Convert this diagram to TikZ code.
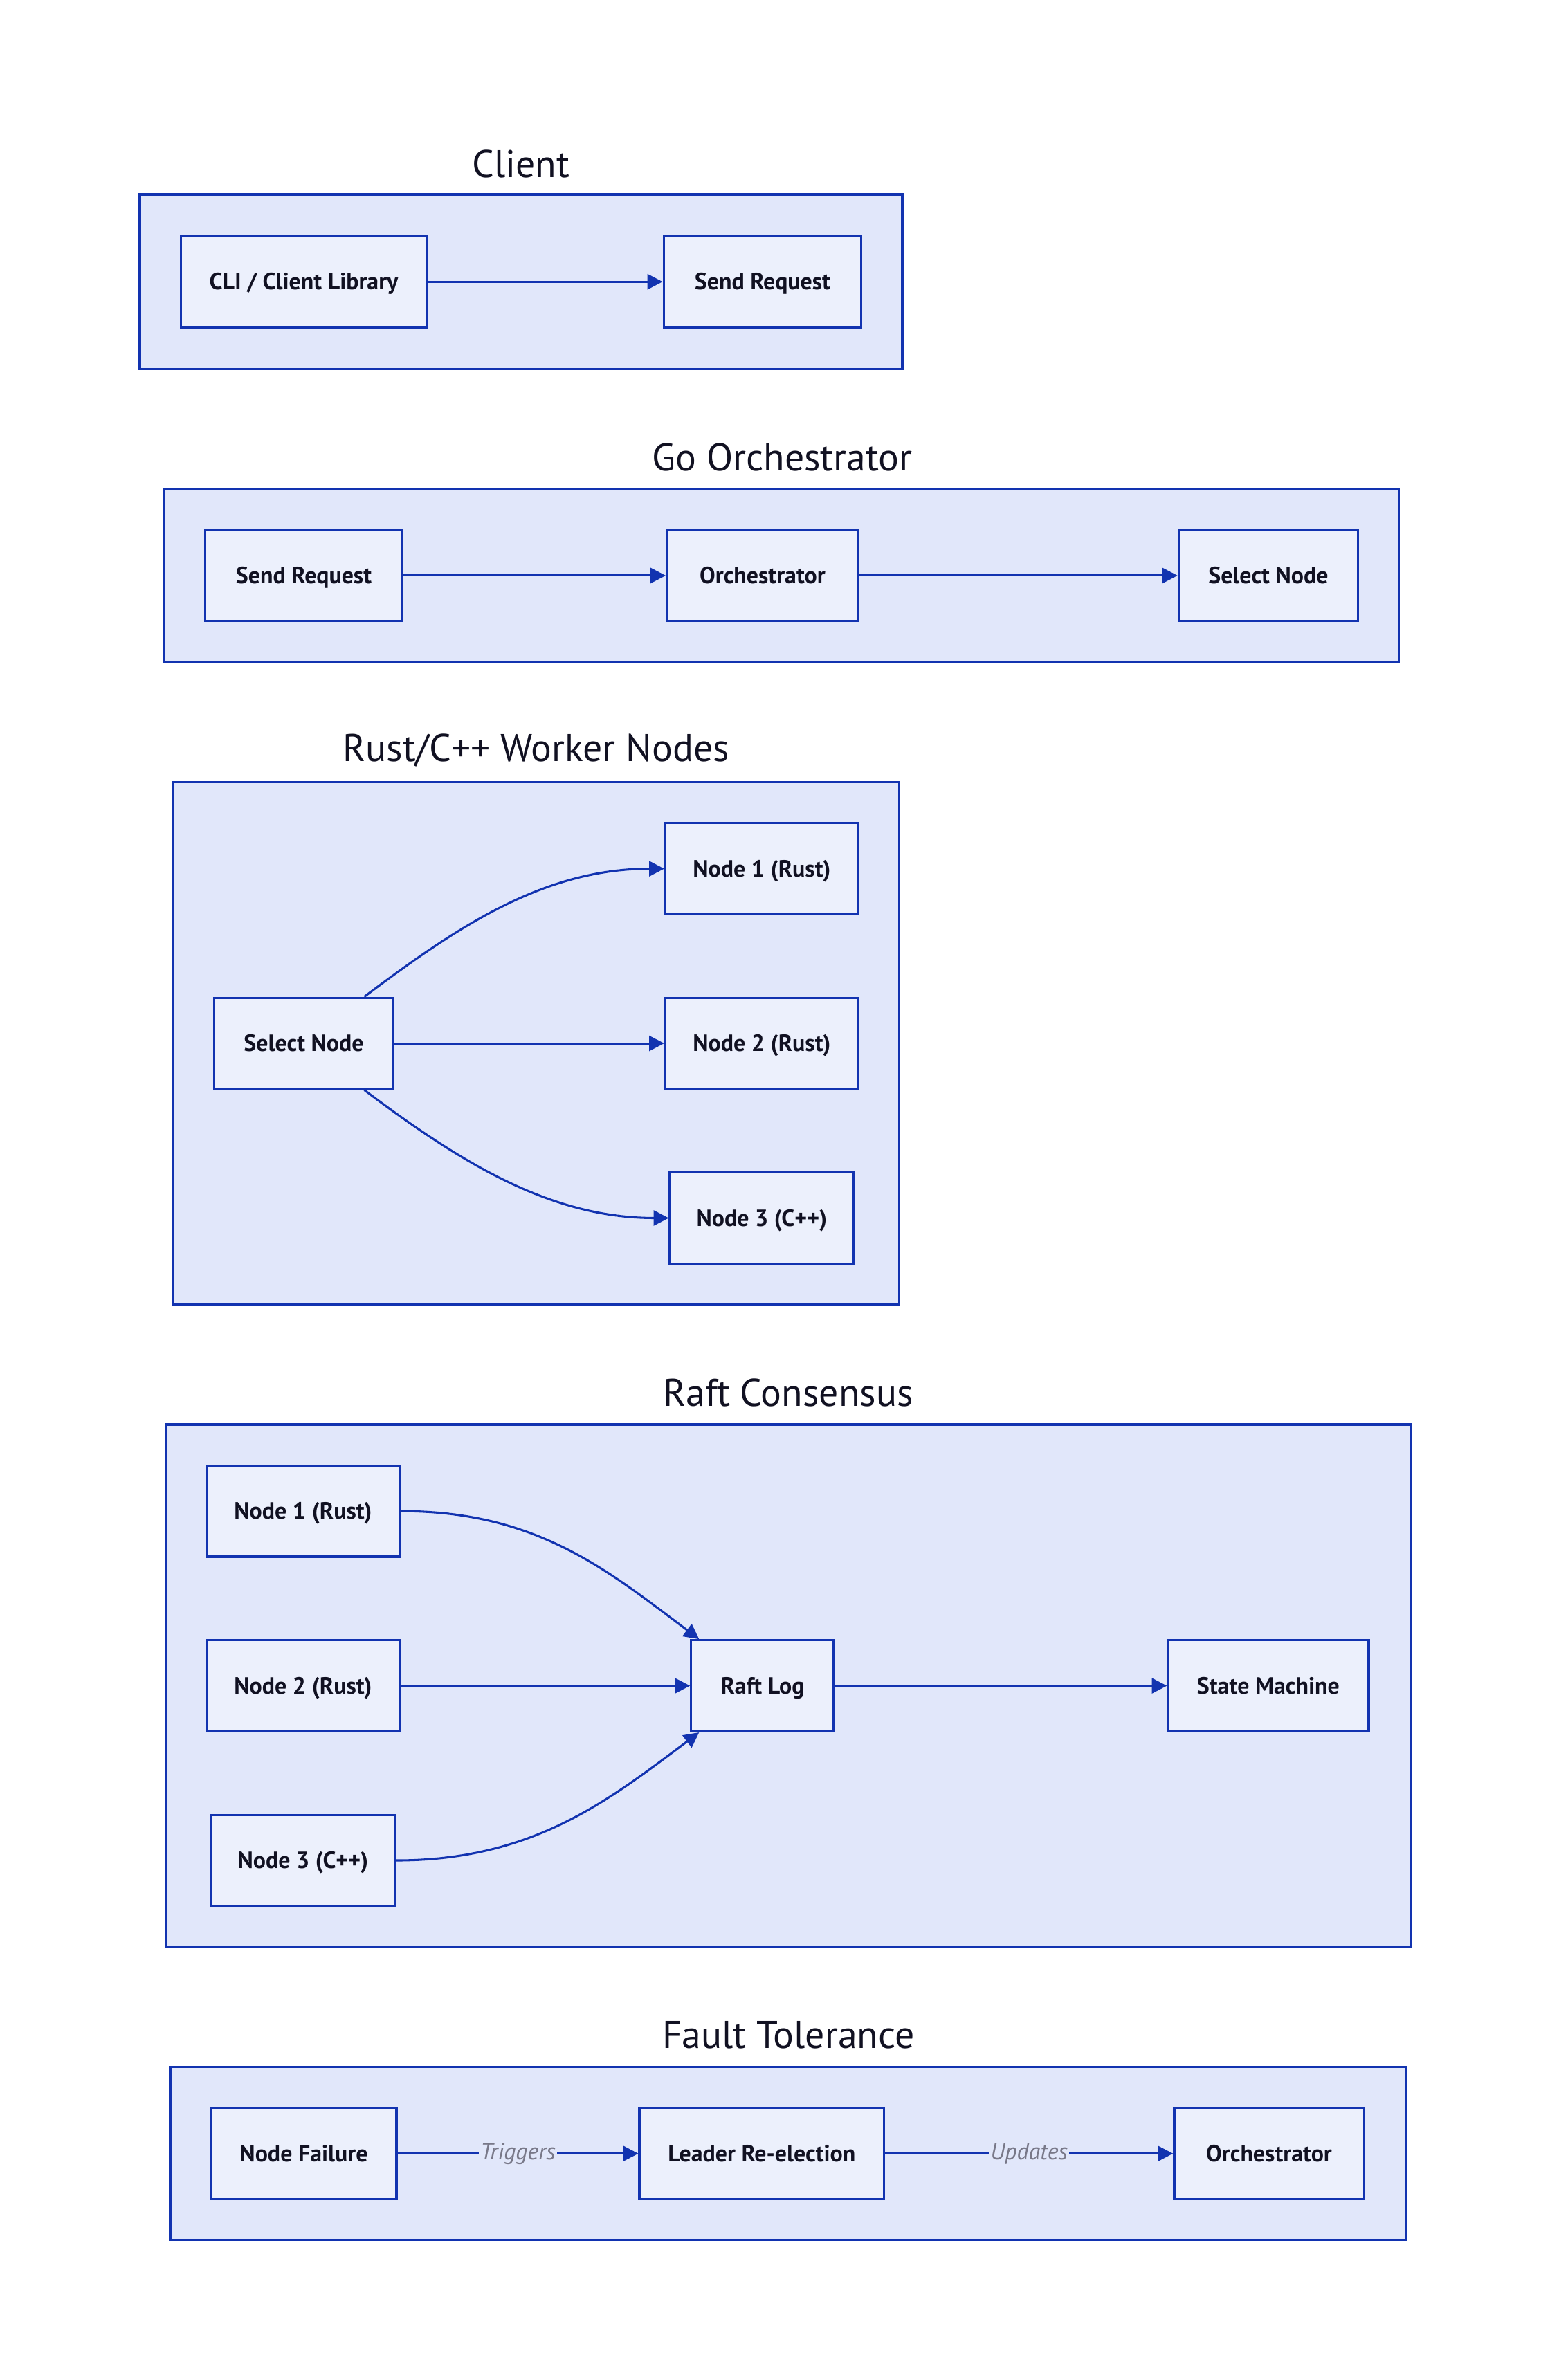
\documentclass[tikz,border=0pt]{standalone}
\usepackage{fontspec}
\setmainfont{PT Sans}
\usetikzlibrary{arrows.meta}
\definecolor{bl}{RGB}{18,51,176}
\definecolor{clfill}{RGB}{225,231,250}
\definecolor{ndfill}{RGB}{236,240,252}
\definecolor{ink}{RGB}{17,17,34}
\definecolor{lblgray}{RGB}{120,120,136}
\begin{document}
\begin{tikzpicture}[x=1.0035pt,y=-1.0035pt,
  cluster/.style={draw=bl, fill=clfill, line width=1.5pt, inner sep=0pt, minimum height=114.4pt},
  box/.style={draw=bl, fill=ndfill, line width=1.5pt, inner sep=0pt, minimum height=60.2pt,
    font=\bfseries\fontsize{15.5}{18}\selectfont, text=ink, text height=10.6pt, text depth=0pt},
  ttl/.style={font=\fontsize{25.5}{30}\selectfont, text=ink, inner sep=0pt},
  arr/.style={draw=bl, line width=1.4pt, -{Triangle[length=10pt,width=10pt]}},
  lbl/.style={font=\itshape\fontsize{15.5}{18}\selectfont, text=lblgray, fill=clfill, inner sep=1pt}]
\useasboundingbox (0pt,0pt) rectangle (1024pt,-1572.6pt);
\fill[white] (0pt,0pt) rectangle (1024pt,-1572.6pt);

% Client
\node[cluster, minimum width=503.8pt, minimum height=115.4pt] (c1) at (343,185.5) {};
\node[ttl] (t1) at (343,108) {Client};
\node[box, minimum width=162.6pt] (cli) at (200,185.5) {CLI / Client Library};
\node[box, minimum width=130.5pt] (sr1) at (502,185.5) {Send Request};
\draw[arr] (cli.east) -- (sr1.west);

% Go Orchestrator
\node[cluster, minimum width=815.8pt] (c2) at (514.5,379) {};
\node[ttl] (t2) at (515,301) {Go Orchestrator};
\node[box, minimum width=130.5pt] (sr2) at (200,379) {Send Request};
\node[box, minimum width=126.4pt] (orc) at (502,379) {Orchestrator};
\node[box, minimum width=118.4pt] (sel2) at (835,379) {Select Node};
\draw[arr] (sr2.east) -- (orc.west);
\draw[arr] (orc.east) -- (sel2.west);

% Rust/C++ Worker Nodes
\node[cluster, minimum width=479.7pt, minimum height=345.2pt] (c3) at (353,687) {};
\node[ttl] (t3) at (353,494) {Rust/C++ Worker Nodes};
\node[box, minimum width=118.4pt] (sel3) at (200,687) {Select Node};
\node[box, minimum width=127.4pt] (wn1) at (501.5,572) {Node 1 (Rust)};
\node[box, minimum width=127.4pt] (wn2) at (501.5,687) {Node 2 (Rust)};
\node[box, minimum width=121.4pt] (wn3) at (501.5,802) {Node 3 (C++)};
\draw[arr] ([xshift=40pt]sel3.north) .. controls +(60,-45) and +(-80,0) .. (wn1.west);
\draw[arr] (sel3.east) -- (wn2.west);
\draw[arr] ([xshift=40pt]sel3.south) .. controls +(60,45) and +(-80,0) .. (wn3.west);

% Raft Consensus
\node[cluster, minimum width=822.9pt, minimum height=345.2pt] (c4) at (519,1110) {};
\node[ttl] (t4) at (519,917) {Raft Consensus};
\node[box, minimum width=127.4pt] (rn1) at (199.5,995) {Node 1 (Rust)};
\node[box, minimum width=127.4pt] (rn2) at (199.5,1110) {Node 2 (Rust)};
\node[box, minimum width=121.4pt] (rn3) at (199.5,1225) {Node 3 (C++)};
\node[box, minimum width=94.3pt] (rlog) at (502,1110) {Raft Log};
\node[box, minimum width=132.5pt] (sm) at (835,1110) {State Machine};
\draw[arr] (rn1.east) .. controls +(90,0) and +(-60,-45) .. ([xshift=6pt]rlog.north west);
\draw[arr] (rn2.east) -- (rlog.west);
\draw[arr] (rn3.east) .. controls +(90,0) and +(-60,45) .. ([xshift=6pt]rlog.south west);
\draw[arr] (rlog.east) -- (sm.west);

% Fault Tolerance
\node[cluster, minimum width=816.8pt] (c5) at (519,1418) {};
\node[ttl] (t5) at (519,1340) {Fault Tolerance};
\node[box, minimum width=122.4pt] (nf) at (200,1418) {Node Failure};
\node[box, minimum width=161.6pt] (lr) at (501.5,1418) {Leader Re-election};
\node[box, minimum width=125.4pt] (orc5) at (835.5,1418) {Orchestrator};
\draw[arr] (nf.east) -- node[lbl] (l1) {Triggers} (lr.west);
\draw[arr] (lr.east) -- node[lbl] (l2) {Updates} (orc5.west);
\end{tikzpicture}
\end{document}
